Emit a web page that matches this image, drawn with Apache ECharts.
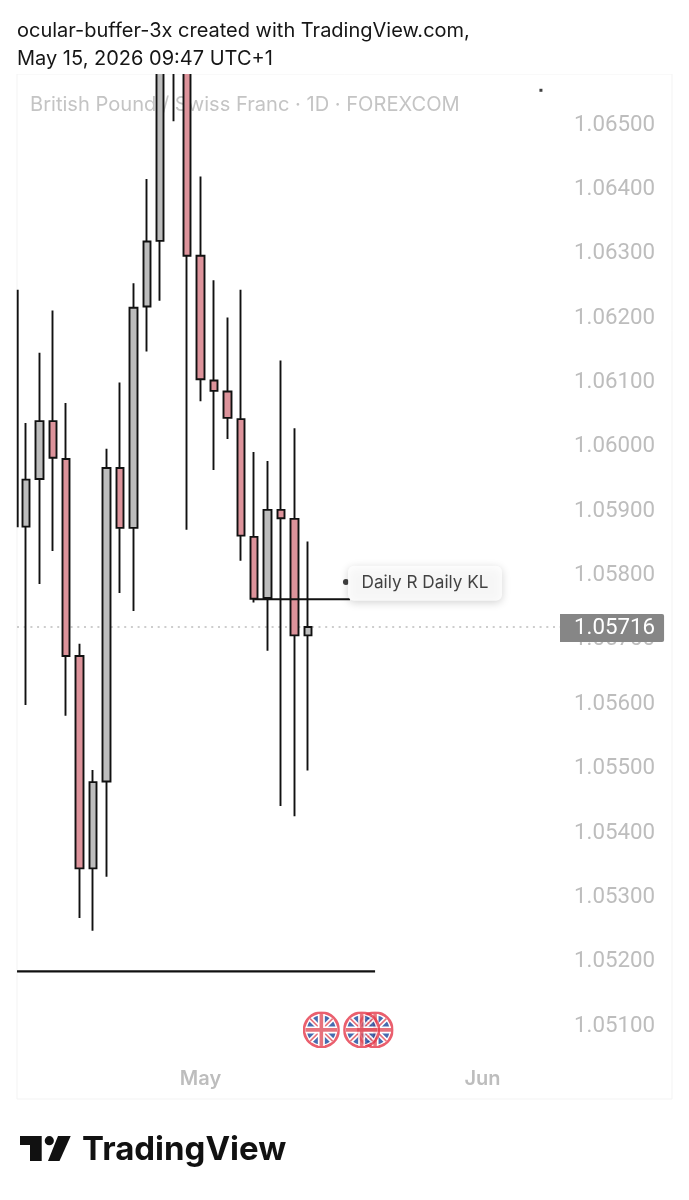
<!DOCTYPE html>
<html>
<head>
<meta charset="utf-8">
<style>html,body{margin:0;padding:0;background:#fff}#c{width:689px;height:1200px}</style>
<script src="https://cdn.jsdelivr.net/npm/echarts@6/dist/echarts.min.js"></script>
</head>
<body>
<div id="c"></div>
<script>
// Trading-day offsets from 1 May
const days  = [-13,-12,-11,-10,-9,-8,-7,-6,-5,-4,-3,-2,-1,0,1,2,3,4,5,6,7,8];
const opens = [1.05872,1.05946,1.06036,1.05977,1.05671,1.05341,1.05476,1.05963,1.05870,1.06214,1.06316,1.06720,1.06720,1.06293,1.06099,1.06082,1.06039,1.05856,1.05761,1.05898,1.05884,1.05703];
const closes= [1.05945,1.06036,1.05979,1.05671,1.05341,1.05475,1.05963,1.05870,1.06212,1.06315,1.06680,1.06680,1.06293,1.06101,1.06083,1.06041,1.05858,1.05760,1.05898,1.05885,1.05703,1.05716];
const lows  = [1.05595,1.05783,1.05834,1.05578,1.05264,1.05244,1.05328,1.05769,1.05741,1.06144,1.06223,1.06502,1.05867,1.06067,1.05960,1.06008,1.05819,1.05754,1.05679,1.05438,1.05422,1.05493];
const highs = [1.06033,1.06142,1.06208,1.06064,1.05690,1.05494,1.05993,1.06096,1.06250,1.06412,1.06720,1.06750,1.06740,1.06416,1.06255,1.06197,1.06240,1.05988,1.05974,1.06130,1.06025,1.05849];

const edgeWickX = [-13.61,-13.61];
const edgeWickY = [1.06240,1.05871];
const lastPrice = 1.05716;
const dailyLineX = [4,11.13];
const dailyLineY = [1.05759,1.05759];
const lowLineX = [-13.66,13];
const lowLineY = [1.05181,1.05181];
const flagDays = [9,13,12];
const flagPrice = 1.05090;
const yTicks = [1.051,1.052,1.053,1.054,1.055,1.056,1.057,1.058,1.059,1.06,1.061,1.062,1.063,1.064,1.065];
const xTicks = [0,21];
const xTickLabels = ['May','Jun'];
const noteText = 'Daily R Daily KL';
const titleLines = ['ocular-buffer-3x created with TradingView.com,','May 15, 2026 09:47 UTC+1'];
const watermark = 'British Pound / Swiss Franc \u00b7 1D \u00b7 FOREXCOM';

const X_MIN = -13.663, X_MAX = 26.77;
const LABEL_NUDGE = 0.00004; // Roboto sits slightly high against the tick; ticks themselves are hidden
const FONT = 'Inter, "Noto Sans", sans-serif';
const NUM_FONT = 'Roboto, Inter, sans-serif';
const flagSvg = `<svg xmlns="http://www.w3.org/2000/svg" viewBox="0 0 37 37"><defs><clipPath id="k"><circle cx="18.5" cy="18.5" r="16"/></clipPath></defs><circle cx="18.5" cy="18.5" r="17.2" fill="#fff" stroke="#e5384a" stroke-width="2.8"/><g clip-path="url(#k)"><circle cx="18.5" cy="18.5" r="14.5" fill="#1a479c"/><path d="M3 3L34 34M34 3L3 34" stroke="#fff" stroke-width="5"/><path d="M3 3L34 34M34 3L3 34" stroke="#e0505c" stroke-width="1.6"/><path d="M18.5 0V37M0 18.5H37" stroke="#fff" stroke-width="7"/><path d="M18.5 0V37M0 18.5H37" stroke="#e0505c" stroke-width="3.6"/></g></svg>`;
const flagSymbol = 'image://data:image/svg+xml;charset=utf-8,' + encodeURIComponent(flagSvg);

const black = '#111111';
const chart = echarts.init(document.getElementById('c'), null, {renderer:'canvas'});
chart.setOption({
  animation:false,
  backgroundColor:'#ffffff',
  textStyle:{fontFamily:FONT},
  title:{
    left:17, top:17, z:30, padding:0,
    text:titleLines.join('\n'),
    textStyle:{fontFamily:FONT,fontSize:20,fontWeight:400,color:'#161616',lineHeight:28}
  },
  grid:{left:17,width:543,top:74.2,height:1013.6,containLabel:false},
  xAxis:{
    type:'value',min:X_MIN,max:X_MAX,
    splitLine:{show:false},axisLine:{show:false},axisTick:{show:false},
    axisLabel:{
      customValues:xTicks,margin:-19,color:'#bdbdbd',fontSize:20,fontWeight:600,fontFamily:FONT,
      formatter:v=>xTickLabels[xTicks.indexOf(v)]||''
    }
  },
  yAxis:{
    type:'value',min:1.05,max:1.06575,position:'right',z:0,scale:true,
    splitLine:{show:false},axisLine:{show:false},axisTick:{show:false},
    axisLabel:{customValues:yTicks.map(v=>v-LABEL_NUDGE),margin:14,color:'#bdbdbd',fontSize:22.3,fontFamily:NUM_FONT,formatter:v=>(v+LABEL_NUDGE).toFixed(5)}
  },
  series:[
    {
      name:'Last price',type:'line',z:1,showSymbol:false,silent:true,
      data:[[X_MIN,lastPrice],[X_MAX,lastPrice]],
      lineStyle:{color:'#cdcdcd',width:2,type:[2,4.7]},
      endLabel:{show:true,distance:0,offset:[0,1],formatter:()=>lastPrice.toFixed(5),color:'#fff',fontSize:22.3,fontFamily:NUM_FONT,
        backgroundColor:'#868686',borderRadius:[0,2,2,0],padding:[4,9,2,14]}
    },
    {
      name:'GBPCHF',type:'candlestick',z:3,barWidth:8,clip:true,
      encode:{x:0,y:[1,2,3,4]},
      data:days.map((d,i)=>[d,opens[i],closes[i],lows[i],highs[i]]),
      itemStyle:{color:'#bdbdbd',color0:'#dd939b',borderColor:black,borderColor0:black,borderWidth:1.9}
    },
    {name:'Edge wick',type:'line',z:3,showSymbol:false,silent:true,
      data:edgeWickX.map((x,i)=>[x,edgeWickY[i]]),lineStyle:{color:black,width:1.9}},
    {name:'Daily KL',type:'line',z:4,showSymbol:false,silent:true,
      data:dailyLineX.map((x,i)=>[x,dailyLineY[i]]),lineStyle:{color:black,width:2}},
    {name:'Low line',type:'line',z:4,showSymbol:false,silent:true,
      data:lowLineX.map((x,i)=>[x,lowLineY[i]]),lineStyle:{color:black,width:2.2}},
    {name:'Note dot',type:'scatter',z:4,symbol:'circle',symbolSize:6,silent:true,
      itemStyle:{color:black},data:[[10.83,1.05786]]},
    {name:'Note',type:'scatter',z:5,symbolSize:0,silent:true,data:[[16.72,1.05784]],
      label:{show:true,position:'inside',formatter:()=>noteText,color:'#141414',fontSize:17.2,fontFamily:FONT,
        backgroundColor:'#ffffff',borderRadius:6,padding:[9,13.5],
        shadowColor:'rgba(0,0,0,0.22)',shadowBlur:8,shadowOffsetY:2}},
    {name:'Corner mark',type:'scatter',z:4,symbol:'rect',symbolSize:3,silent:true,
      itemStyle:{color:black},data:[[25.35,1.0655]]},
    {name:'Events',type:'scatter',z:4,symbol:flagSymbol,symbolSize:37,silent:true,
      data:flagDays.map(d=>[d,flagPrice])}
  ],
  graphic:[
    {type:'rect',z:20,silent:true,shape:{x:0,y:0,width:689,height:74},style:{fill:'#ffffff'}},
    {type:'rect',z:0,silent:true,shape:{x:17,y:74,width:655,height:1025},style:{fill:'none',stroke:'#f3f3f3',lineWidth:1}},
    {type:'text',z:0,silent:true,x:30,y:94.5,style:{text:watermark,fill:'#c4c4c4',font:'400 20.1px '+FONT}},
    {type:'polygon',z:10,silent:true,shape:{points:[[20,1136],[41.7,1136],[41.7,1161],[30,1161],[30,1145],[20,1145]]},style:{fill:black}},
    {type:'circle',z:10,silent:true,shape:{cx:49.3,cy:1140.7,r:4.6},style:{fill:black}},
    {type:'polygon',z:10,silent:true,shape:{points:[[58,1136],[70.7,1136],[59.5,1161],[48,1161]]},style:{fill:black}},
    {type:'text',z:10,silent:true,x:82,y:1134,style:{text:'TradingView',fill:black,font:'700 33px Inter, sans-serif'}}
  ]
});
</script>
</body>
</html>
